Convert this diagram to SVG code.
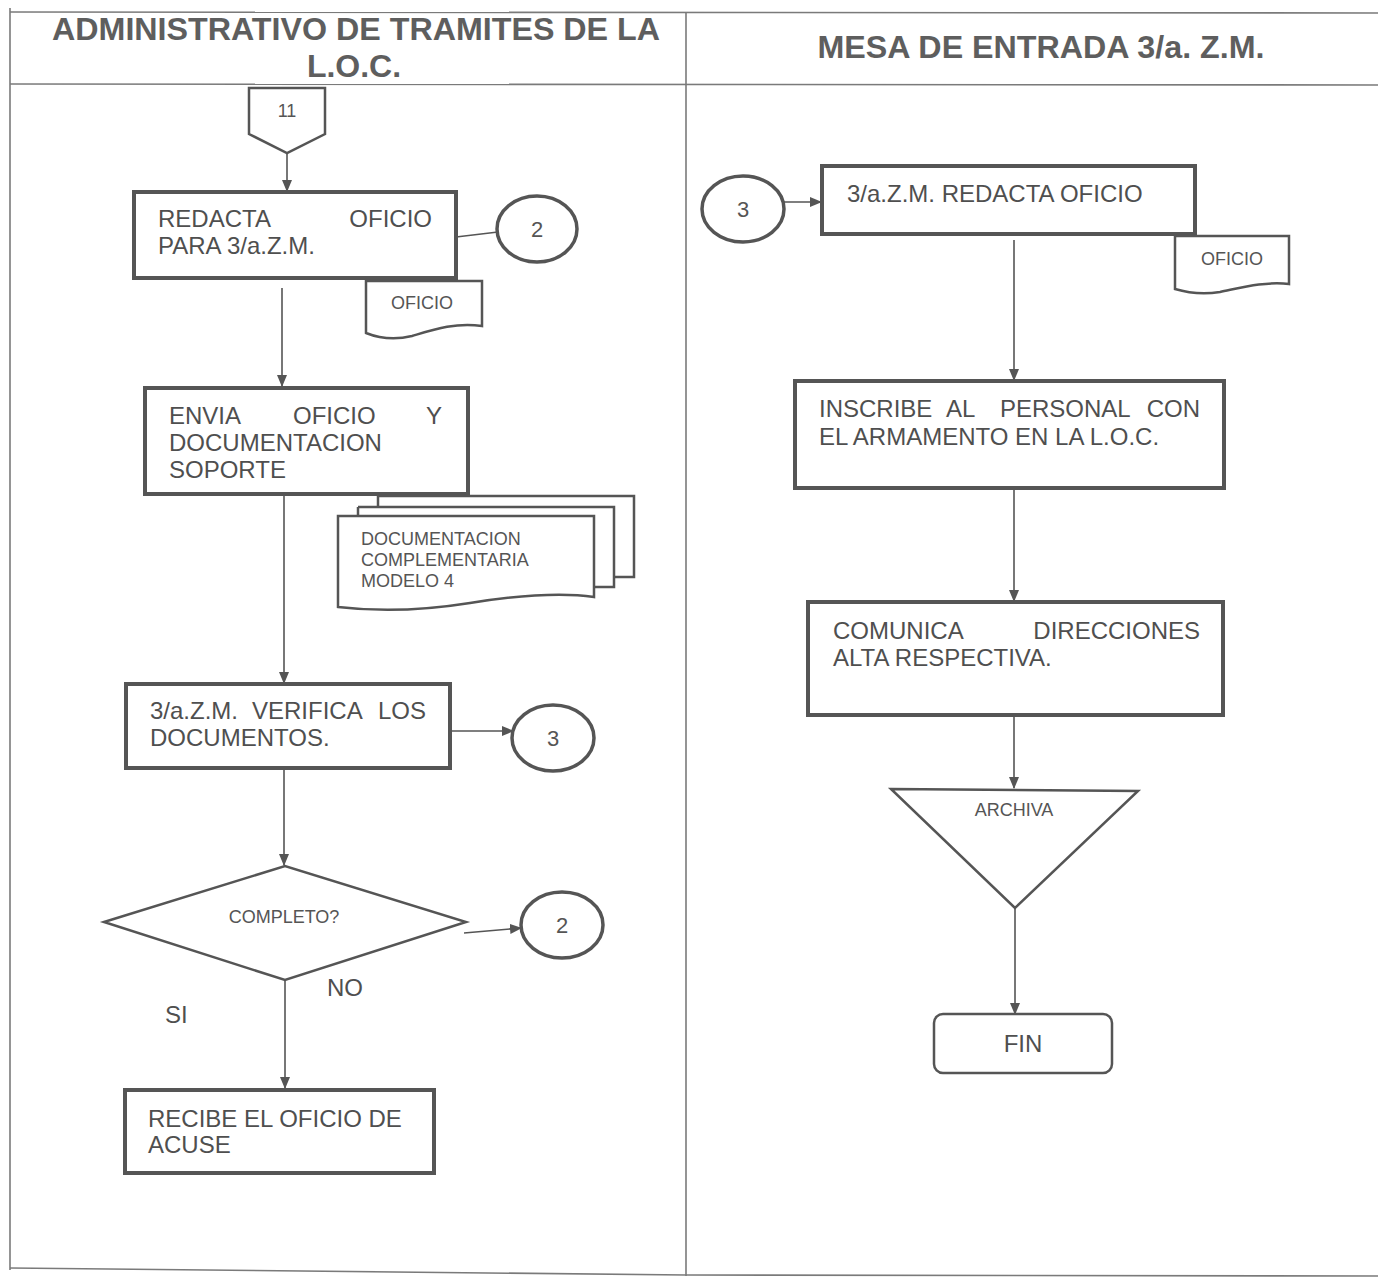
<svg xmlns="http://www.w3.org/2000/svg" width="1378" height="1277" viewBox="0 0 1378 1277">
<defs>
<marker id="arr" markerWidth="12" markerHeight="12" refX="11" refY="6" orient="auto" markerUnits="userSpaceOnUse">
<path d="M0,1 L12,6 L0,11 Z" fill="#555"/>
</marker>
<style>
.grid{stroke:#7a7a7a;stroke-width:1.6;fill:none}
.hdr{font-family:"Liberation Sans",Arial,sans-serif;font-weight:bold;font-size:32px;fill:#5e5e5e;text-anchor:middle}
.box{fill:#fff;stroke:#555;stroke-width:4}
.thin{fill:#fff;stroke:#555;stroke-width:2.5}
.circ{fill:#fff;stroke:#555;stroke-width:3.5}
.t{font-family:"Liberation Sans",Arial,sans-serif;font-size:24px;fill:#4f4f4f}
.ts{font-family:"Liberation Sans",Arial,sans-serif;font-size:18px;fill:#555}
.tc{font-family:"Liberation Sans",Arial,sans-serif;font-size:22px;fill:#555;text-anchor:middle}
.conn{stroke:#555;stroke-width:1.6;fill:none}
</style>
</defs>
<rect width="1378" height="1277" fill="#fff"/>
<g id="table">
<line class="grid" x1="10" y1="12" x2="1378" y2="13"/>
<line class="grid" x1="10" y1="84" x2="1378" y2="85"/>
<line class="grid" x1="10" y1="8" x2="10" y2="1270"/>
<line class="grid" x1="686" y1="12" x2="686" y2="1276"/>
<line class="grid" x1="10" y1="1268" x2="686" y2="1275"/>
<line class="grid" x1="686" y1="1275" x2="1378" y2="1276"/>
<text class="hdr" x="356" y="40" textLength="608" lengthAdjust="spacingAndGlyphs">ADMINISTRATIVO DE TRAMITES DE LA</text>
<text class="hdr" x="354" y="77">L.O.C.</text>
<text class="hdr" x="1041" y="58" textLength="447" lengthAdjust="spacingAndGlyphs">MESA DE ENTRADA 3/a. Z.M.</text>
</g>
<g id="connectors">
<line class="conn" x1="287" y1="153" x2="287" y2="191" marker-end="url(#arr)"/>
<line class="conn" x1="456" y1="237" x2="498" y2="232"/>
<line class="conn" x1="282" y1="288" x2="282" y2="386" marker-end="url(#arr)"/>
<line class="conn" x1="284" y1="496" x2="284" y2="683" marker-end="url(#arr)"/>
<line class="conn" x1="452" y1="731" x2="513" y2="731" marker-end="url(#arr)"/>
<line class="conn" x1="284" y1="770" x2="284" y2="865" marker-end="url(#arr)"/>
<line class="conn" x1="464" y1="933" x2="521" y2="928" marker-end="url(#arr)"/>
<line class="conn" x1="285" y1="980" x2="285" y2="1088" marker-end="url(#arr)"/>
<line class="conn" x1="784" y1="202" x2="821" y2="202" marker-end="url(#arr)"/>
<line class="conn" x1="1014" y1="240" x2="1014" y2="380" marker-end="url(#arr)"/>
<line class="conn" x1="1014" y1="490" x2="1014" y2="601" marker-end="url(#arr)"/>
<line class="conn" x1="1014" y1="717" x2="1014" y2="788" marker-end="url(#arr)"/>
<line class="conn" x1="1015" y1="908" x2="1015" y2="1014" marker-end="url(#arr)"/>
</g>
<g id="n11">
<path class="thin" d="M249,88 H325 V134 L287,153 L249,134 Z" stroke-width="2"/>
<text class="ts" x="287" y="117" text-anchor="middle">11</text>
</g>
<g id="redacta">
<rect class="box" x="134" y="192" width="322" height="86"/>
<text class="t"><tspan x="158" y="227">REDACTA</tspan><tspan x="432" y="227" text-anchor="end">OFICIO</tspan><tspan x="158" y="254">PARA 3/a.Z.M.</tspan></text>
</g>
<g id="c2a">
<ellipse class="circ" cx="537" cy="229" rx="40" ry="33"/>
<text class="tc" x="537" y="237">2</text>
</g>
<g id="oficio1">
<path class="thin" d="M366,281 H482 V326 C455,322 432,330 412,336 C392,341 376,337 366,333 Z"/>
<text class="ts" x="422" y="309" text-anchor="middle" font-size="17">OFICIO</text>
</g>
<g id="envia">
<rect class="box" x="145" y="388" width="323" height="106"/>
<text class="t"><tspan x="169" y="424">ENVIA</tspan><tspan x="293" y="424">OFICIO</tspan><tspan x="442" y="424" text-anchor="end">Y</tspan><tspan x="169" y="451">DOCUMENTACION</tspan><tspan x="169" y="478">SOPORTE</tspan></text>
</g>
<g id="docs">
<path class="thin" d="M378,496 H634 V577 H594"/>
<path class="thin" d="M358,507 H614 V587 H594"/>
<line class="thin" x1="378" y1="496" x2="378" y2="507"/>
<path class="thin" d="M338,516 H594 V597 C560,592 520,595 470,603 C420,611 380,612 338,607 Z"/>
<line class="thin" x1="358" y1="507" x2="358" y2="516"/>
<text class="ts" font-size="17"><tspan x="361" y="545">DOCUMENTACION</tspan><tspan x="361" y="566">COMPLEMENTARIA</tspan><tspan x="361" y="587">MODELO 4</tspan></text>
</g>
<g id="verifica">
<rect class="box" x="126" y="684" width="324" height="84"/>
<text class="t"><tspan x="150" y="719">3/a.Z.M.</tspan><tspan x="252" y="719">VERIFICA</tspan><tspan x="426" y="719" text-anchor="end">LOS</tspan><tspan x="150" y="746">DOCUMENTOS.</tspan></text>
</g>
<g id="c3a">
<ellipse class="circ" cx="553" cy="738" rx="41" ry="33"/>
<text class="tc" x="553" y="746">3</text>
</g>
<g id="completo">
<path class="thin" d="M104,922 L285,866 L466,922 L285,980 Z" stroke-width="3.5"/>
<text class="ts" x="284" y="923" text-anchor="middle" font-size="16" fill="#666">COMPLETO?</text>
</g>
<g id="c2b">
<ellipse class="circ" cx="562" cy="925" rx="41" ry="33"/>
<text class="tc" x="562" y="933">2</text>
</g>
<g id="labels">
<text class="t" x="327" y="996" font-size="22">NO</text>
<text class="t" x="165" y="1023" font-size="22">SI</text>
</g>
<g id="recibe">
<rect class="box" x="125" y="1090" width="309" height="83" stroke="#666"/>
<text class="t" fill="#777"><tspan x="148" y="1127">RECIBE EL OFICIO DE</tspan><tspan x="148" y="1153">ACUSE</tspan></text>
</g>
<g id="c3b">
<ellipse class="circ" cx="743" cy="209" rx="41" ry="33"/>
<text class="tc" x="743" y="217">3</text>
</g>
<g id="redacta2">
<rect class="box" x="822" y="166" width="373" height="68"/>
<text class="t" x="847" y="202">3/a.Z.M. REDACTA OFICIO</text>
</g>
<g id="oficio2">
<path class="thin" d="M1175,236 H1289 V284 C1265,281 1240,288 1220,292 C1200,295 1185,292 1175,289 Z"/>
<text class="ts" x="1232" y="265" text-anchor="middle" font-size="17">OFICIO</text>
</g>
<g id="inscribe">
<rect class="box" x="795" y="381" width="429" height="107"/>
<text class="t"><tspan x="819" y="417">INSCRIBE</tspan><tspan x="946" y="417">AL</tspan><tspan x="1000" y="417">PERSONAL</tspan><tspan x="1200" y="417" text-anchor="end">CON</tspan><tspan x="819" y="445">EL ARMAMENTO EN  LA L.O.C.</tspan></text>
</g>
<g id="comunica">
<rect class="box" x="808" y="602" width="415" height="113"/>
<text class="t"><tspan x="833" y="639">COMUNICA</tspan><tspan x="1200" y="639" text-anchor="end">DIRECCIONES</tspan><tspan x="833" y="666">ALTA RESPECTIVA.</tspan></text>
</g>
<g id="archiva">
<path class="thin" d="M891,789 L1138,791 L1015,908 Z" stroke-width="3.5"/>
<text class="ts" x="1014" y="816" text-anchor="middle" font-size="15">ARCHIVA</text>
</g>
<g id="fin">
<rect class="thin" x="934" y="1014" width="178" height="59" rx="9" stroke-width="3"/>
<text class="t" x="1023" y="1052" text-anchor="middle">FIN</text>
</g>
</svg>
